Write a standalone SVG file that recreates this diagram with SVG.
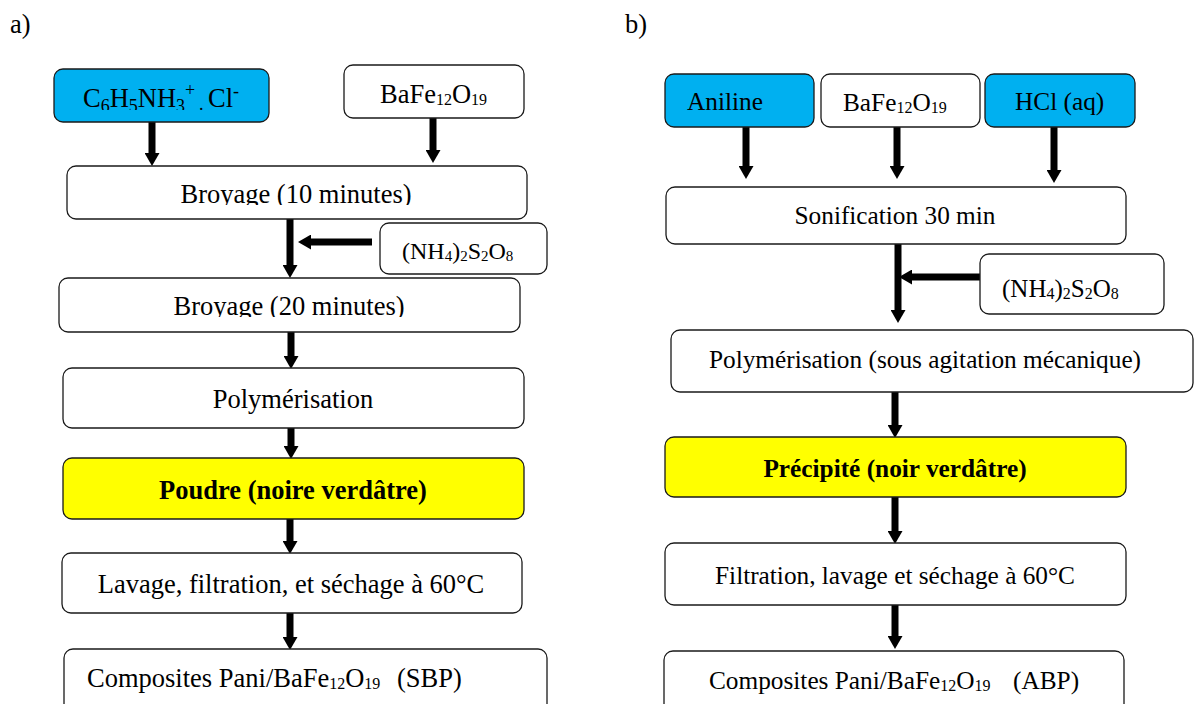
<svg xmlns="http://www.w3.org/2000/svg" width="1195" height="704" viewBox="0 0 1195 704">
<style>
.box{fill:#fff;stroke:#1a1a1a;stroke-width:1.3}
.cyan{fill:#00b0f0}
.yel{fill:#ffff00}
.t{font-family:"Liberation Serif","Times New Roman",serif;fill:#000}
.L{font-size:26.5px}
.R{font-size:25.3px}
.b{font-weight:bold}
.c{text-anchor:middle}
.ar{stroke:#000;stroke-width:7;fill:none;marker-end:url(#ah)}
</style>
<defs>
<marker id="ah" markerUnits="userSpaceOnUse" markerWidth="13" markerHeight="15" refX="0" refY="7.5" orient="auto">
<path d="M0,0 L13,7.5 L0,15 z" fill="#000"/>
</marker>
<clipPath id="clipC"><rect x="54" y="60" width="215" height="50"/></clipPath>
<clipPath id="clipB1"><rect x="60" y="160" width="470" height="45"/></clipPath>
<clipPath id="clipB2"><rect x="60" y="270" width="470" height="47"/></clipPath>
</defs>
<rect width="1195" height="704" fill="#fff"/>

<text class="t L" x="10" y="33">a)</text>
<text class="t L" x="625" y="33">b)</text>

<g id="connectors">
<line class="ar" x1="152" y1="122" x2="152" y2="153"/>
<line class="ar" x1="433" y1="118" x2="433" y2="150"/>
<line class="ar" x1="290" y1="219" x2="290" y2="265"/>
<line class="ar" x1="372" y1="242" x2="311" y2="242"/>
<line class="ar" x1="291" y1="332" x2="291" y2="356"/>
<line class="ar" x1="291" y1="428" x2="291" y2="446"/>
<line class="ar" x1="290" y1="519" x2="290" y2="541"/>
<line class="ar" x1="290" y1="613" x2="290" y2="637"/>

<line class="ar" x1="746" y1="123" x2="746" y2="166"/>
<line class="ar" x1="897" y1="127" x2="897" y2="166"/>
<line class="ar" x1="1054" y1="127" x2="1054" y2="170"/>
<line class="ar" x1="898" y1="235" x2="898" y2="310"/>
<line class="ar" x1="980" y1="277" x2="912" y2="277"/>
<line class="ar" x1="895" y1="392" x2="895" y2="425"/>
<line class="ar" x1="895" y1="497" x2="895" y2="531"/>
<line class="ar" x1="895" y1="605" x2="895" y2="636"/>
</g>

<!-- Left panel -->
<g id="a-anilinium">
<rect class="box cyan" x="54" y="69" width="215" height="53" rx="9"/>
<text class="t L" x="83" y="107" clip-path="url(#clipC)">C<tspan font-size="18" dy="5">6</tspan><tspan dy="-5">H</tspan><tspan font-size="18" dy="5">5</tspan><tspan dy="-5">NH</tspan><tspan font-size="18" dy="5">3</tspan><tspan font-size="18" dy="-16">+</tspan><tspan font-size="18" x="199" dy="14">.</tspan><tspan x="208" dy="-3">Cl</tspan><tspan font-size="18" dy="-10">-</tspan></text>
</g>
<g id="a-bafe">
<rect class="box" x="344" y="65" width="180" height="53" rx="9"/>
<text class="t L" x="380" y="103">BaFe<tspan font-size="16" dy="2">12</tspan><tspan dy="-2">O</tspan><tspan font-size="16" dy="2">19</tspan></text>
</g>
<g id="a-broyage10">
<rect class="box" x="67" y="166" width="460" height="53" rx="9"/>
<text class="t L c" x="296" y="203" clip-path="url(#clipB1)">Broyage (10 minutes)</text>
</g>
<g id="a-aps">
<rect class="box" x="380" y="223" width="167" height="51" rx="9"/>
<text class="t" font-size="24" x="402" y="259">(NH<tspan font-size="15" dy="2">4</tspan><tspan dy="-2">)</tspan><tspan font-size="15" dy="2">2</tspan><tspan dy="-2">S</tspan><tspan font-size="15" dy="2">2</tspan><tspan dy="-2">O</tspan><tspan font-size="15" dy="2">8</tspan></text>
</g>
<g id="a-broyage20">
<rect class="box" x="59" y="278" width="461" height="54" rx="9"/>
<text class="t L c" x="289" y="315" clip-path="url(#clipB2)">Broyage (20 minutes)</text>
</g>
<g id="a-polym">
<rect class="box" x="63" y="368" width="461" height="60" rx="9"/>
<text class="t L c" x="293" y="408">Polymérisation</text>
</g>
<g id="a-poudre">
<rect class="box yel" x="63" y="458" width="461" height="61" rx="9"/>
<text class="t L b c" x="293" y="499">Poudre (noire verdâtre)</text>
</g>
<g id="a-lavage">
<rect class="box" x="62" y="553" width="460" height="60" rx="9"/>
<text class="t L c" x="291" y="593">Lavage, filtration, et séchage à 60°C</text>
</g>
<g id="a-composites">
<rect class="box" x="64" y="649" width="483" height="66" rx="9"/>
<text class="t L" x="87" y="687">Composites Pani/BaFe<tspan font-size="16" dy="2">12</tspan><tspan dy="-2">O</tspan><tspan font-size="16" dy="2">19</tspan><tspan x="397" dy="-2">(SBP)</tspan></text>
</g>

<!-- Right panel -->
<g id="b-aniline">
<rect class="box cyan" x="665" y="74" width="149" height="53" rx="9"/>
<text class="t R" x="687" y="110">Aniline</text>
</g>
<g id="b-bafe">
<rect class="box" x="821" y="74" width="159" height="53" rx="9"/>
<text class="t R" x="843" y="111">BaFe<tspan font-size="16" dy="2">12</tspan><tspan dy="-2">O</tspan><tspan font-size="16" dy="2">19</tspan></text>
</g>
<g id="b-hcl">
<rect class="box cyan" x="985" y="74" width="150" height="53" rx="9"/>
<text class="t R" x="1015" y="110">HCl (aq)</text>
</g>
<g id="b-sonif">
<rect class="box" x="666" y="187" width="460" height="57" rx="9"/>
<text class="t R c" x="895" y="224">Sonification 30 min</text>
</g>
<g id="b-aps">
<rect class="box" x="980" y="254" width="184" height="60" rx="9"/>
<text class="t" font-size="25" x="1002" y="297">(NH<tspan font-size="16" dy="2">4</tspan><tspan dy="-2">)</tspan><tspan font-size="16" dy="2">2</tspan><tspan dy="-2">S</tspan><tspan font-size="16" dy="2">2</tspan><tspan dy="-2">O</tspan><tspan font-size="16" dy="2">8</tspan></text>
</g>
<g id="b-polym">
<rect class="box" x="671" y="330" width="522" height="62" rx="9"/>
<text class="t R c" x="925" y="368">Polymérisation (sous agitation mécanique)</text>
</g>
<g id="b-precipite">
<rect class="box yel" x="665" y="437" width="461" height="60" rx="9"/>
<text class="t R b c" x="895" y="477">Précipité (noir verdâtre)</text>
</g>
<g id="b-filtration">
<rect class="box" x="665" y="543" width="461" height="62" rx="9"/>
<text class="t R c" x="895" y="584">Filtration, lavage et séchage à 60°C</text>
</g>
<g id="b-composites">
<rect class="box" x="664" y="651" width="460" height="64" rx="9"/>
<text class="t R" x="709" y="689">Composites Pani/BaFe<tspan font-size="16" dy="2">12</tspan><tspan dy="-2">O</tspan><tspan font-size="16" dy="2">19</tspan><tspan x="1013" dy="-2">(ABP)</tspan></text>
</g>
</svg>
